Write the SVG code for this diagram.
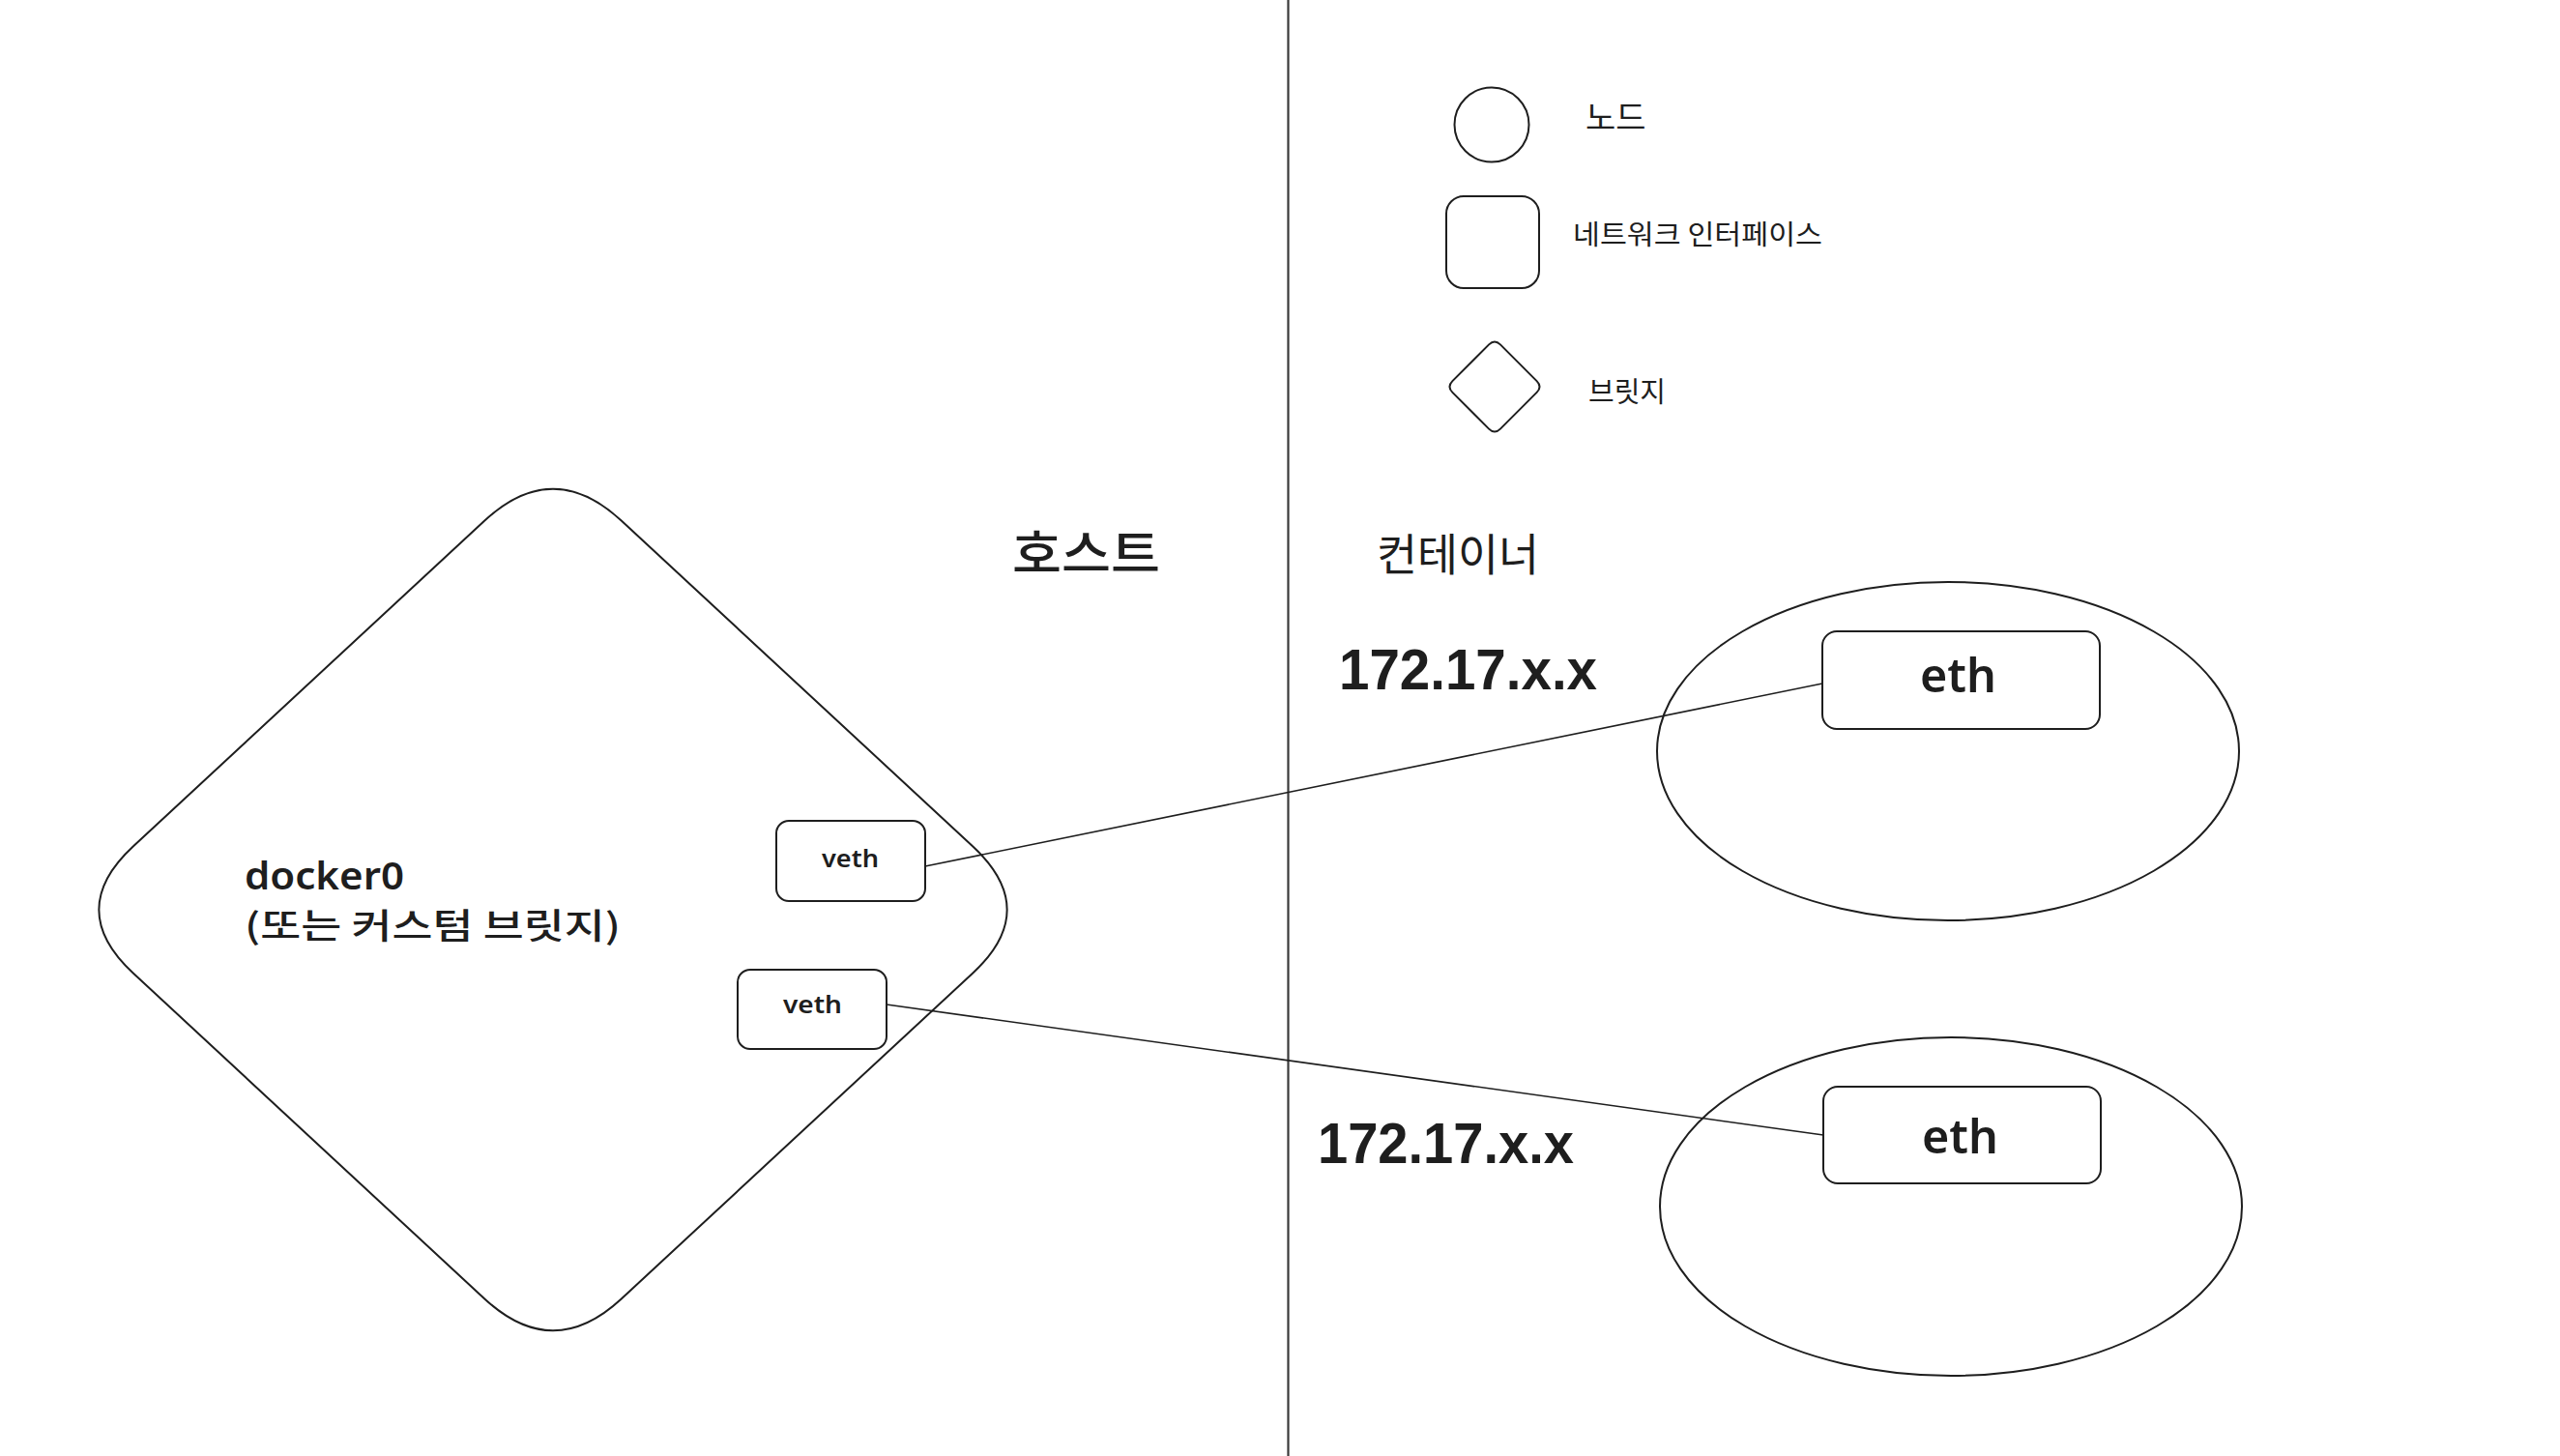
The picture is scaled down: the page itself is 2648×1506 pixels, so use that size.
<svg xmlns="http://www.w3.org/2000/svg" width="2648" height="1506" viewBox="0 0 2648 1506">
<style>
.s{fill:none;stroke:#1e1e1e;stroke-width:2;stroke-linejoin:round}
.k{font-family:"Noto Sans CJK KR","Noto Sans",sans-serif;fill:#1e1e1e}
.h{font-family:"Noto Sans","Noto Sans CJK KR",sans-serif;fill:#1e1e1e;font-weight:600}
.ip{font-family:"Liberation Sans","Noto Sans",sans-serif;font-weight:bold;fill:#1e1e1e;font-size:60px}
.c{fill:none;stroke:#1e1e1e;stroke-width:1.6}
</style>
<rect width="2648" height="1506" fill="#ffffff"/>
<g id="divider"><line x1="1332.5" y1="0" x2="1332.5" y2="1506" stroke="#3a3a3a" stroke-width="2.2"/></g>
<g id="legend-node">
<circle class="s" cx="1543" cy="129" r="38.5"/>
<text class="k" x="1640" y="134" font-size="34">노드</text>
</g>
<g id="legend-interface">
<rect class="s" x="1496" y="203" width="96" height="95" rx="18"/>
<text class="k" x="1627" y="253" font-size="28" textLength="258" lengthAdjust="spacingAndGlyphs">네트워크  인터페이스</text>
</g>
<g id="legend-bridge">
<path class="s" d="M1551.9 356.4 L1589.6 394.1 Q1595.5 400 1589.6 405.9 L1551.9 443.6 Q1546 449.5 1540.1 443.6 L1502.4 405.9 Q1496.5 400 1502.4 394.1 L1540.1 356.4 Q1546 350.5 1551.9 356.4 Z"/>
<text class="k" x="1643" y="416" font-size="29" textLength="80" lengthAdjust="spacingAndGlyphs">브릿지</text>
</g>
<g id="label-host"><text class="k" x="1047" y="592" font-size="52" font-weight="500" textLength="153" lengthAdjust="spacingAndGlyphs">호스트</text></g>
<g id="label-container"><text class="k" x="1424" y="590" font-size="46" textLength="168" lengthAdjust="spacingAndGlyphs">컨테이너</text></g>
<g id="docker0">
<path class="s" stroke-width="1.6" d="M642.7 538.5 L1006.3 875.5 Q1077 941 1006.3 1006.5 L642.7 1343.5 Q572 1409 501.3 1343.5 L137.7 1006.5 Q67 941 137.7 875.5 L501.3 538.5 Q572 473 642.7 538.5 Z"/>
<text class="h" x="253" y="920" font-size="40" textLength="165" lengthAdjust="spacingAndGlyphs">docker0</text>
<text class="k" x="253" y="971" font-size="36" font-weight="500" textLength="389" lengthAdjust="spacingAndGlyphs">(또는 커스텀 브릿지)</text>
</g>
<g id="veth1">
<rect class="s" x="803" y="849" width="154" height="83" rx="13"/>
<text class="h" x="850" y="897" font-size="26" textLength="59" lengthAdjust="spacingAndGlyphs">veth</text>
</g>
<g id="veth2">
<rect class="s" x="763" y="1003" width="154" height="82" rx="13"/>
<text class="h" x="810" y="1048" font-size="26" textLength="61" lengthAdjust="spacingAndGlyphs">veth</text>
</g>
<g id="container1">
<ellipse class="s" cx="2015" cy="777" rx="301" ry="175"/>
<rect class="s" x="1885" y="653" width="287" height="101" rx="15"/>
<text class="h" x="1986" y="716" font-size="48" textLength="79" lengthAdjust="spacingAndGlyphs">eth</text>
</g>
<g id="container2">
<ellipse class="s" cx="2018" cy="1248" rx="301" ry="175"/>
<rect class="s" x="1886" y="1124" width="287" height="100" rx="15"/>
<text class="h" x="1988" y="1193" font-size="48" textLength="79" lengthAdjust="spacingAndGlyphs">eth</text>
</g>
<g id="ip1"><text class="ip" x="1385" y="713" textLength="267" lengthAdjust="spacingAndGlyphs">172.17.x.x</text></g>
<g id="ip2"><text class="ip" x="1363" y="1203" textLength="265" lengthAdjust="spacingAndGlyphs">172.17.x.x</text></g>
<g id="connectors">
<line class="c" x1="957" y1="896" x2="1885" y2="707"/>
<line class="c" x1="917" y1="1039" x2="1886" y2="1174"/>
</g>
</svg>
